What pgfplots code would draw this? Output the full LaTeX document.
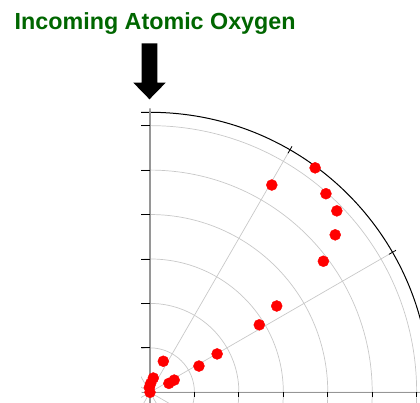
\documentclass[border=0pt]{standalone}
\usepackage{pgfplots}
\pgfplotsset{compat=1.18}
\usepgfplotslibrary{polar}
\usepackage{fontspec}
\setmainfont{Liberation Sans}
\definecolor{titlegreen}{RGB}{0,102,0}
\definecolor{gridgray}{RGB}{200,200,200}
\definecolor{axisgray}{RGB}{150,150,150}
\begin{document}
\begin{tikzpicture}[x=1pt,y=1pt]
\useasboundingbox (0,0) rectangle (420,402);
\clip (0,0) rectangle (420,402);
\node[anchor=base west, inner sep=0pt, text=titlegreen, font=\fontsize{23.3}{28}\selectfont\bfseries] at (14.5,372) {Incoming Atomic Oxygen};
\fill[black] (141.7,358.7) -- (157.3,358.7) -- (157.3,319.3) -- (165.7,319.3) -- (149.5,302.7) -- (133.3,319.3) -- (141.7,319.3) -- cycle;
\begin{scope}
\clip (141,0) rectangle (420,296);
\begin{polaraxis}[
  at={(150pt,9.7pt)}, anchor=origin,
  scale only axis, width=560pt, height=560pt,
  xmin=0, xmax=360, ymin=0, ymax=6.3,
  xtick={0,30,...,330}, ytick={1,2,...,6},
  xticklabels={}, yticklabels={},
  grid=major,
  major grid style={gridgray, line width=0.7pt},
  axis line style={black, line width=1pt},
  xtick style={black, line width=0.8pt},
  ytick style={draw=none},
  tick align=center,
  major tick length=8pt,
  clip=false,
]
\draw[axisgray, line width=1.4pt] (axis cs:270,0.3) -- (axis cs:90,6.3);
\draw[axisgray, line width=1.4pt] (axis cs:180,0.19) -- (axis cs:0,6.3);
\pgfplotsinvokeforeach{1,2,...,6}{
  \draw[black, line width=0.8pt] (axis cs:90,#1) -- ++(-8.5pt,0pt);
  \draw[black, line width=0.8pt] (axis cs:0,#1) -- ++(0pt,-4.5pt);
}
\addplot[only marks, mark=*, mark size=5.5pt, color=red, mark options={draw=red, fill=red}] coordinates {
  (53.66,6.27) (59.56,5.41) (48.46,5.97) (44.16,5.86) (40.37,5.47)
  (37.09,4.89) (34.26,3.45) (31.69,2.89) (29.75,1.74) (28.2,1.25)
  (66.8,0.76) (26.8,0.61) (25.3,0.47) (77,0.33) (85.6,0.20)
  (98,0.11) (0,0)
};
\end{polaraxis}
\end{scope}
\end{tikzpicture}
\end{document}
